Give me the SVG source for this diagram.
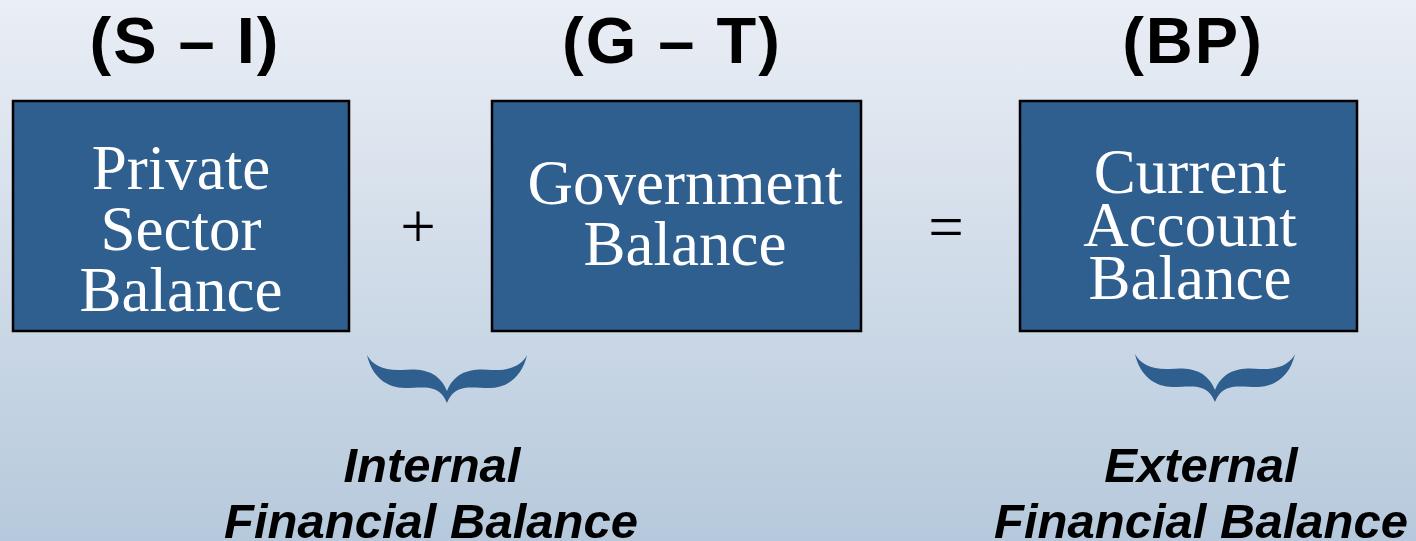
<svg xmlns="http://www.w3.org/2000/svg" width="1416" height="541" viewBox="0 0 1416 541">
<defs>
<linearGradient id="bg" x1="0" y1="0" x2="0" y2="1">
<stop offset="0" stop-color="#eaeef5"/>
<stop offset="1" stop-color="#b6c9dc"/>
</linearGradient>
<path id="brace" d="M -80,0 C -75,22 -60,33 -42,33 C -24,33 -8,28 0,48 C 8,28 24,33 42,33 C 60,33 75,22 80,0 C 75,10 63,16 45,15 C 25,13 8,16 0,36 C -8,16 -25,13 -45,15 C -63,16 -75,10 -80,0 Z"/>
</defs>
<style>
.box{fill:#2f5f8f;stroke:#000;stroke-width:2.5}
.bt{font-family:"Liberation Serif","Times New Roman",serif;font-size:63px;fill:#fff;text-anchor:middle}
.hd{font-family:"Liberation Sans",Arial,sans-serif;font-weight:bold;font-size:65px;fill:#000;text-anchor:middle;letter-spacing:2px}
.op{font-family:"Liberation Serif","Times New Roman",serif;font-size:63px;fill:#000;text-anchor:middle}
.lb{font-family:"Liberation Sans",Arial,sans-serif;font-weight:bold;font-style:italic;font-size:49px;fill:#000;text-anchor:middle}
.br{fill:#2f5f8f}
</style>
<rect width="1416" height="541" fill="url(#bg)"/>
<g id="headers">
<text class="hd" x="185" y="63">(S – I)</text>
<text class="hd" x="672" y="63">(G – T)</text>
<text class="hd" x="1193" y="63">(BP)</text>
</g>
<g id="node-private">
<rect class="box" x="13" y="101" width="336" height="230"/>
<text class="bt" x="181" y="189">Private</text>
<text class="bt" x="181" y="250">Sector</text>
<text class="bt" x="181" y="311">Balance</text>
</g>
<g id="node-government">
<rect class="box" x="492" y="101" width="369" height="230"/>
<text class="bt" x="685" y="204">Government</text>
<text class="bt" x="685" y="265">Balance</text>
</g>
<g id="node-current">
<rect class="box" x="1020" y="101" width="337" height="230"/>
<text class="bt" x="1190" y="193">Current</text>
<text class="bt" x="1190" y="246">Account</text>
<text class="bt" x="1190" y="299">Balance</text>
</g>
<g id="operators">
<text class="op" x="418" y="248">+</text>
<text class="op" x="946" y="248">=</text>
</g>
<g id="connectors">
<use href="#brace" class="br" transform="translate(447,355)"/>
<use href="#brace" class="br" transform="translate(1215,354)"/>
</g>
<g id="labels">
<text class="lb" x="432" y="482">Internal</text>
<text class="lb" x="431" y="538">Financial Balance</text>
<text class="lb" x="1201" y="482">External</text>
<text class="lb" x="1201" y="538">Financial Balance</text>
</g>
</svg>
